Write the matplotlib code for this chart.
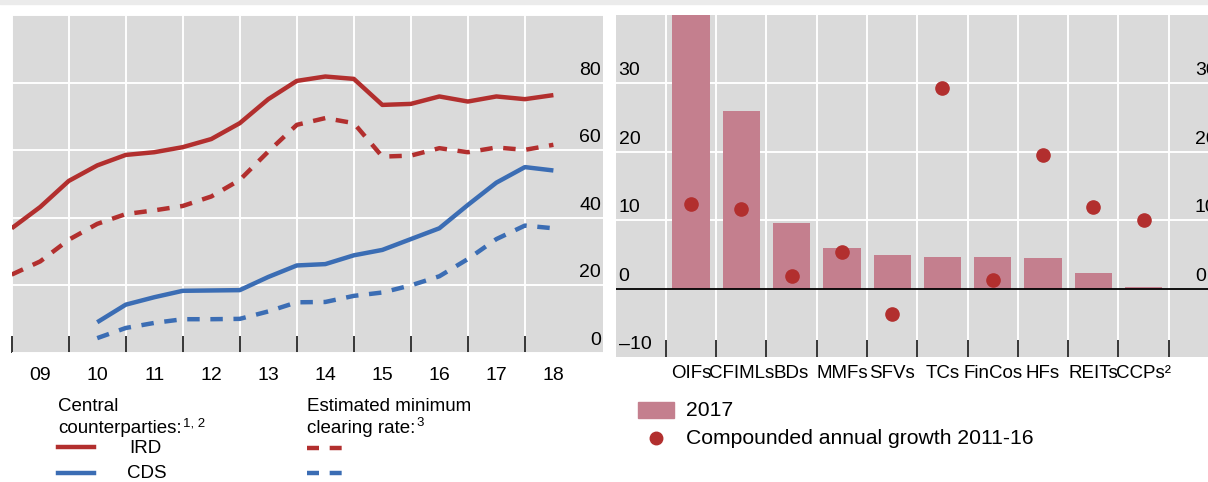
import matplotlib
matplotlib.use('Agg')
import matplotlib.pyplot as plt
from matplotlib.lines import Line2D
from matplotlib.patches import Rectangle
import numpy as np

plt.rcParams['font.family'] = ['Liberation Sans', 'DejaVu Sans']

# Left panel: share centrally cleared, half-yearly from 2009 H1 to 2018 H2
periods = np.arange(2009.0, 2018.6, 0.5)
cds_periods = periods[3:]
ird_ccp = [36.9, 43.2, 50.9, 55.5, 58.6, 59.4, 60.9, 63.3, 68.0, 75.1,
           80.5, 81.8, 81.1, 73.4, 73.7, 75.9, 74.4, 75.9, 75.1, 76.3]
ird_min = [23.2, 27.1, 33.5, 38.2, 41.1, 42.2, 43.5, 46.3, 51.2, 59.6,
           67.5, 69.5, 68.0, 58.1, 58.4, 60.6, 59.4, 60.8, 60.1, 61.6]
cds_ccp = [9.1, 14.3, 16.5, 18.4, 18.5, 18.6, 22.5, 25.9, 26.3, 28.9,
           30.5, 33.7, 36.9, 43.8, 50.4, 55.0, 54.0]
cds_min = [4.4, 7.4, 8.9, 10.0, 10.0, 10.1, 12.3, 15.0, 15.1, 16.9,
           17.9, 20.0, 22.7, 27.8, 33.7, 37.7, 36.9]
year_labels = ['09', '10', '11', '12', '13', '14', '15', '16', '17', '18']

# Right panel: size in 2017 and compounded annual growth 2011-16
categories = ['OIFs', 'CFIMLs', 'BDs', 'MMFs', 'SFVs', 'TCs', 'FinCos', 'HFs', 'REITs', 'CCPs²']
size_2017 = [45.0, 26.0, 9.6, 5.9, 4.9, 4.6, 4.6, 4.5, 2.3, 0.3]
growth = [12.3, 11.6, 1.9, 5.3, -3.7, 29.4, 1.2, 19.6, 11.9, 10.0]

RED = '#B22F2E'
BLUE = '#3B6DB4'
BAR = '#C47F8E'
BG = '#DADADA'
LW = 3.2
DASH = (2.8, 2.4)

W, H = 1208, 482
fig = plt.figure(figsize=(W / 100, H / 100), dpi=100)


def fx(x):
    return x / W


def fy(y):
    return 1 - y / H


# thin grey band along the top
fig.patches.append(Rectangle((0, fy(4)), 1, 4 / H, transform=fig.transFigure,
                             color='#EBEBEB', zorder=0))

# ---------- left panel ----------
ax1 = fig.add_axes([fx(11.7), fy(353), (603 - 11.7) / W, (353 - 15) / H])
ax1.set_facecolor(BG)
ax1.set_axisbelow(True)
for s in ax1.spines.values():
    s.set_visible(False)
ax1.set_xlim(2009, 2019.37)
ax1.set_ylim(0, 100)

ax1.set_xticks(np.arange(2009, 2019))
ax1.set_xticks(np.arange(2009.5, 2019), minor=True)
ax1.set_xticklabels(year_labels, minor=True)
ax1.tick_params(axis='x', which='major', direction='in', length=12, width=1.1,
                color='black', labelbottom=False)
ax1.tick_params(axis='x', which='minor', length=0, pad=10, labelsize=14)
ax1.set_yticks([0, 20, 40, 60, 80, 100])
ax1.tick_params(axis='y', length=0, labelleft=False)
ax1.grid(True, which='major', color='white', lw=1.4)

ax1.plot(periods, ird_ccp, color=RED, lw=LW, solid_capstyle='butt')
ax1.plot(periods, ird_min, color=RED, lw=LW, dashes=DASH)
ax1.plot(cds_periods, cds_ccp, color=BLUE, lw=LW, solid_capstyle='butt')
ax1.plot(cds_periods, cds_min, color=BLUE, lw=LW, dashes=DASH)

for v in [0, 20, 40, 60, 80]:
    ax1.annotate(str(v), xy=(1, v), xycoords=('axes fraction', 'data'),
                 xytext=(-2, 4), textcoords='offset pixels',
                 ha='right', va='bottom', fontsize=14)

# ---------- right panel ----------
ax2 = fig.add_axes([fx(615.6), fy(357), (W - 615.6) / W, (357 - 15) / H])
ax2.set_facecolor(BG)
ax2.set_axisbelow(True)
for s in ax2.spines.values():
    s.set_visible(False)
ax2.set_xlim(-1.5, 10.28)
ax2.set_ylim(-10, 40)

xpos = np.arange(len(categories))
ax2.set_xticks(np.arange(-0.5, len(categories)))
ax2.set_xticks(xpos, minor=True)
ax2.set_xticklabels(categories, minor=True)
ax2.tick_params(axis='x', which='major', direction='in', length=12, width=1.1,
                color='black', labelbottom=False)
ax2.tick_params(axis='x', which='minor', length=0, pad=6, labelsize=13.5)
ax2.set_yticks([10, 20, 30])
ax2.tick_params(axis='y', length=0, labelleft=False)
ax2.grid(True, which='major', color='white', lw=1.4)

ax2.bar(xpos, size_2017, width=0.74, color=BAR, zorder=2)
ax2.axhline(0, color='black', lw=1.3, zorder=3)
ax2.plot(xpos, growth, 'o', color=RED, ms=9.5, zorder=4)

for v in [-10, 0, 10, 20, 30]:
    lab = '\u201310' if v < 0 else str(v)
    ax2.annotate(lab, xy=(0, v), xycoords=('axes fraction', 'data'),
                 xytext=(3, 4), textcoords='offset pixels',
                 ha='left', va='bottom', fontsize=14)
    if v >= 0:
        # right-hand scale, cut by the figure edge as in the original
        ax2.annotate(str(v), xy=(10.02, v), xycoords='data',
                     xytext=(0, 4), textcoords='offset pixels',
                     ha='left', va='bottom', fontsize=14)

# ---------- legends ----------
fig.text(fx(58), fy(411), 'Central', ha='left', va='baseline', fontsize=13.5)
t1 = fig.text(fx(58), fy(433), 'counterparties:', ha='left', va='baseline', fontsize=13.5)
fig.text(fx(307), fy(411), 'Estimated minimum', ha='left', va='baseline', fontsize=13.5)
t2 = fig.text(fx(307), fy(433), 'clearing rate:', ha='left', va='baseline', fontsize=13.5)
for t, sup in [(t1, '1, 2'), (t2, '3')]:
    fig.add_artist(matplotlib.text.Annotation(
        sup, xy=(1, 1), xycoords=t, xytext=(1, 2), textcoords='offset points',
        ha='left', va='top', fontsize=9.5))

fig.add_artist(Line2D([fx(58), fx(94)], [fy(447), fy(447)], color=RED, lw=LW,
                      transform=fig.transFigure))
fig.add_artist(Line2D([fx(58), fx(94)], [fy(473), fy(473)], color=BLUE, lw=LW,
                      transform=fig.transFigure))
fig.add_artist(Line2D([fx(307), fx(343)], [fy(448), fy(448)], color=RED, lw=LW,
                      dashes=(2.7, 2.4), transform=fig.transFigure))
fig.add_artist(Line2D([fx(307), fx(343)], [fy(473), fy(473)], color=BLUE, lw=LW,
                      dashes=(2.7, 2.4), transform=fig.transFigure))
fig.text(fx(129), fy(448.5), 'IRD', ha='left', va='center', fontsize=13.5)
fig.text(fx(127), fy(473.5), 'CDS', ha='left', va='center', fontsize=13.5)

fig.patches.append(Rectangle((fx(638), fy(418)), 36 / W, 16 / H,
                             transform=fig.transFigure, color=BAR))
fig.text(fx(686), fy(410.5), '2017', ha='left', va='center', fontsize=15.2)
fig.add_artist(Line2D([fx(656)], [fy(438)], marker='o', ms=9, color=RED, lw=0,
                      transform=fig.transFigure))
fig.text(fx(686), fy(438), 'Compounded annual growth 2011-16', ha='left', va='center',
         fontsize=15.2)

fig.savefig('out.png', dpi=100)
